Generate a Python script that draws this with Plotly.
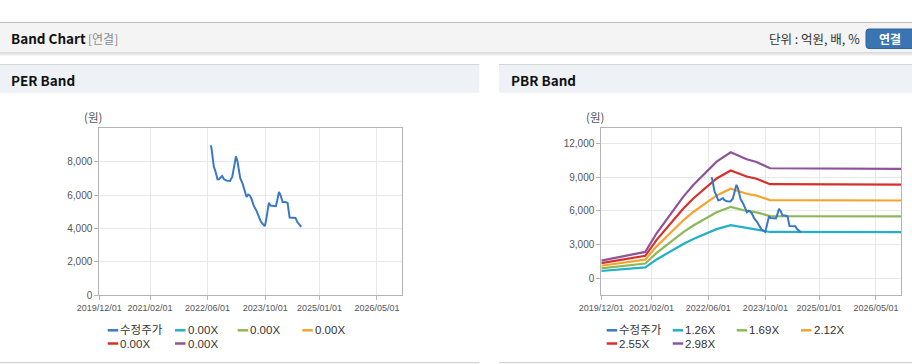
import plotly.graph_objects as go

W, H = 912, 364

# ---------------- data ----------------
price_name = "수정주가"
price_dates = ["2022-06-27","2022-07-04","2022-07-25","2022-08-05","2022-08-25","2022-09-08",
               "2022-10-03","2022-10-17","2022-11-09","2022-12-07","2022-12-27","2023-01-10",
               "2023-01-27","2023-02-10","2023-03-04","2023-03-24","2023-04-10","2023-04-27",
               "2023-05-11","2023-05-25","2023-06-08","2023-06-28","2023-07-20","2023-08-12",
               "2023-08-26","2023-09-15","2023-09-29","2023-10-13","2023-10-24","2023-11-01",
               "2023-11-15","2023-12-08","2023-12-30","2024-01-11","2024-01-25","2024-02-08",
               "2024-02-25","2024-03-18","2024-04-07","2024-04-24","2024-05-16","2024-06-13",
               "2024-06-27","2024-07-14","2024-07-31"]
price = [8980,8850,7680,7480,6945,6965,7145,6965,6865,6845,
         7085,7680,8320,7980,7025,6690,6290,5890,6030,5970,
         5770,5335,5055,4695,4400,4240,4140,4695,5295,5535,
         5375,5335,5335,5690,6190,5990,5590,5590,5535,4655,
         4655,4635,4400,4260,4100]

per_labels = ["0.00X", "0.00X", "0.00X", "0.00X", "0.00X"]
per_values = [None, None, None, None, None]

band_dates = ["2019-12-01","2020-12-10","2021-03-17","2021-08-06","2021-10-31","2022-01-24",
              "2022-05-18","2022-08-11","2022-12-09","2023-04-24","2023-07-18","2023-11-09",
              "2026-12-01"]
pbr_labels = ["1.26X", "1.69X", "2.12X", "2.55X", "2.98X"]
pbr_126 = [676,1000,1700,2575,3074,3511,4012,4387,4735,4473,4374,4137,4118]
pbr_169 = [907,1341,2280,3454,4123,4710,5382,5884,6352,6000,5867,5549,5524]
pbr_212 = [1138,1682,2860,4332,5172,5908,6751,7381,7968,7527,7359,6961,6929]
pbr_255 = [1369,2024,3440,5211,6221,7107,8121,8878,9584,9053,8852,8373,8334]
pbr_298 = [1600,2365,4020,6090,7270,8305,9490,10375,11200,10580,10345,9785,9740]
pbr_values = [pbr_126, pbr_169, pbr_212, pbr_255, pbr_298]

x_tick_vals = ["2019-12-01","2021-02-01","2022-06-01","2023-10-01","2025-01-01","2026-05-01"]
x_tick_text = ["2019/12/01","2021/02/01","2022/06/01","2023/10/01","2025/01/01","2026/05/01"]
per_y_ticks = [0, 2000, 4000, 6000, 8000]
pbr_y_ticks = [0, 3000, 6000, 9000, 12000]

# ---------------- styles ----------------
price_color = "#3b78c4"
band_colors = ["#22b0c6", "#8db85a", "#f4a531", "#d6302a", "#8f539b"]
FONT = "Liberation Sans, Noto Sans CJK KR, sans-serif"
KFONT = "Noto Sans CJK KR, Liberation Sans, sans-serif"

def px(x):
    return x / W

def py(y):
    return 1 - y / H

fig = go.Figure()

# PER band (empty multiples)
for lab, vals, col in zip(per_labels, per_values, band_colors):
    fig.add_trace(go.Scatter(x=[], y=[], mode="lines", name=lab,
                             line=dict(color=col, width=2), xaxis="x", yaxis="y",
                             showlegend=False))
fig.add_trace(go.Scatter(x=price_dates, y=price, mode="lines", name=price_name,
                         line=dict(color=price_color, width=2), xaxis="x", yaxis="y",
                         showlegend=False))

# PBR band
for lab, vals, col in zip(pbr_labels, pbr_values, band_colors):
    fig.add_trace(go.Scatter(x=band_dates, y=vals, mode="lines", name=lab,
                             line=dict(color=col, width=2.2), xaxis="x2", yaxis="y2",
                             showlegend=False))
fig.add_trace(go.Scatter(x=price_dates, y=price, mode="lines", name=price_name,
                         line=dict(color=price_color, width=2), xaxis="x2", yaxis="y2",
                         showlegend=False))

axis_common = dict(showline=True, mirror=True, linecolor="#b4b4b4", linewidth=1,
                   gridcolor="#e8e8e8", gridwidth=1, zeroline=False, automargin=False,
                   ticks="outside", ticklen=4, tickcolor="#b4b4b4",
                   tickfont=dict(family=FONT, size=10, color="#555555"))
xfont = dict(family=FONT, size=9, color="#555555")

ydom = [py(295.3), py(128.3)]
fig.update_layout(
    width=W, height=H, margin=dict(l=0, r=0, t=0, b=0, pad=0, autoexpand=False),
    paper_bgcolor="white", plot_bgcolor="white", showlegend=False,
    xaxis=dict(domain=[px(99.3), px(402.3)], range=["2019-12-01", "2026-12-01"], type="date",
               tickvals=x_tick_vals, ticktext=x_tick_text, anchor="y",
               **{**axis_common, "tickfont": xfont}),
    yaxis=dict(domain=ydom, range=[0, 10000], tickvals=per_y_ticks, tickformat=",",
               anchor="x", **axis_common),
    xaxis2=dict(domain=[px(601.3), px(901)], range=["2019-12-01", "2026-12-01"], type="date",
                tickvals=x_tick_vals, ticktext=x_tick_text, anchor="y2",
                **{**axis_common, "tickfont": xfont}),
    yaxis2=dict(domain=ydom, range=[-1480, 13330], tickvals=pbr_y_ticks, tickformat=",",
                anchor="x2", **axis_common),
)

shapes = []
ann = []

def rect(x0, y0, x1, y1, fill, line=None):
    shapes.append(dict(type="rect", xref="paper", yref="paper",
                       x0=px(x0), x1=px(x1), y0=py(y1), y1=py(y0),
                       fillcolor=fill, line=dict(width=0) if line is None else line,
                       layer="below"))

def hline(x0, x1, y, color, w=1):
    shapes.append(dict(type="line", xref="paper", yref="paper",
                       x0=px(x0), x1=px(x1), y0=py(y), y1=py(y),
                       line=dict(color=color, width=w)))

def text(x, y, s, size=12, color="#333333", bold=False, anchor="left", family=KFONT):
    ann.append(dict(xref="paper", yref="paper", x=px(x), y=py(y), text=f"<b>{s}</b>" if bold else s,
                    showarrow=False, xanchor=anchor, yanchor="middle", borderpad=0, borderwidth=0,
                    font=dict(family=family, size=size, color=color)))

# top header bar
rect(0, 22.5, W, 52.5, "#f4f4f4")
hline(0, W, 22.5, "#b9b9b9", 1.2)
hline(0, W, 53, "#c4c4c4", 1.2)
hline(0, W, 54.2, "#e2e2e2", 1)
hline(0, W, 55.2, "#f0f0f0", 1)
text(11, 38.5, "Band Chart", size=13.5, color="#111111", bold=True)
text(88, 38.5, "[연결]", size=12, color="#8a8a8a")
text(860, 38.5, "단위 : 억원, 배, %", size=12.5, color="#333333", anchor="right")
shapes.append(dict(type="path", xref="paper", yref="paper",
                   path=f"M {px(869)},{py(29)} L {px(915)},{py(29)} L {px(915)},{py(48.5)} "
                        f"L {px(869)},{py(48.5)} Q {px(866)},{py(48.5)} {px(866)},{py(45.5)} "
                        f"L {px(866)},{py(32)} Q {px(866)},{py(29)} {px(869)},{py(29)} Z",
                   fillcolor="#3a74b3", line=dict(color="#2f64a0", width=1)))
text(889.5, 38.8, "연결", size=12, color="white", bold=True, anchor="center")

# panels
for (x0, x1, title, tx) in [(0, 479.3, "PER Band", 11), (499, W, "PBR Band", 510.5)]:
    rect(x0, 64.5, x1, 92.7, "#eef2f7")
    hline(x0, x1, 64.5, "#d6d6d6", 1.2)
    hline(x0, x1, 362.7, "#d4d4d4", 1.2)
    text(tx, 80, title, size=13.5, color="#111111", bold=True)

# unit labels
text(84, 117.5, "(원)", size=11.5, color="#555555")
text(586, 117.5, "(원)", size=11.5, color="#555555")

# manual legends
def legend_item(xs, y, color, label):
    shapes.append(dict(type="line", xref="paper", yref="paper",
                       x0=px(xs), x1=px(xs + 10.5), y0=py(y), y1=py(y),
                       line=dict(color=color, width=2.5)))
    text(xs + 12.5, y, label, size=11.5, color="#333333", family=FONT)

row1, row2 = 330.3, 343.5
# left
legend_item(107.7, row1, price_color, price_name)
legend_item(175.0, row1, band_colors[0], per_labels[0])
legend_item(237.7, row1, band_colors[1], per_labels[1])
legend_item(302.3, row1, band_colors[2], per_labels[2])
legend_item(107.7, row2, band_colors[3], per_labels[3])
legend_item(175.0, row2, band_colors[4], per_labels[4])
# right
legend_item(606.7, row1, price_color, price_name)
legend_item(672.7, row1, band_colors[0], pbr_labels[0])
legend_item(736.7, row1, band_colors[1], pbr_labels[1])
legend_item(801.0, row1, band_colors[2], pbr_labels[2])
legend_item(606.7, row2, band_colors[3], pbr_labels[3])
legend_item(672.7, row2, band_colors[4], pbr_labels[4])

fig.update_layout(shapes=shapes, annotations=ann)
fig.write_html("out.html", config={"displayModeBar": False},
               post_script="document.body.style.margin='0';document.body.style.overflow='hidden';")
